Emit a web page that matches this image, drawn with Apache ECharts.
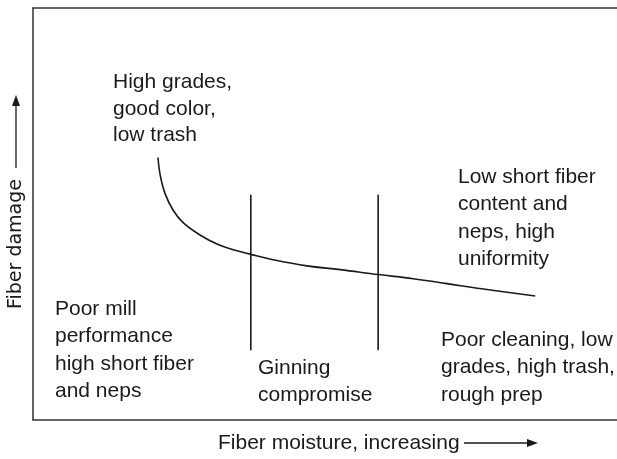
<!DOCTYPE html>
<html>
<head>
<meta charset="utf-8">
<script src="https://cdn.jsdelivr.net/npm/echarts@6/dist/echarts.min.js"></script>
<style>
  html, body { margin: 0; padding: 0; background: #fff; }
  #chart { width: 617px; height: 459px; }
</style>
</head>
<body>
<div id="chart"></div>
<script>
// curve (arbitrary moisture / damage units, 0-10)
var moisture = [2.14, 2.18, 2.26, 2.40, 2.57, 2.86, 3.15, 3.43, 3.73, 4.11, 4.69, 5.26, 5.91, 6.51, 7.09, 7.65, 8.60];
var damage = [6.37, 5.93, 5.50, 5.09, 4.79, 4.49, 4.27, 4.13, 4.02, 3.89, 3.74, 3.65, 3.53, 3.43, 3.31, 3.19, 3.01];

// the two vertical dividers of the ginning compromise zone
var dividerX = [3.73, 5.91];
var dividerSpan = [1.69, 5.47];

var topLeftNote = ["High grades,", "good color,", "low trash"];
var topRightNote = ["Low short fiber", "content and", "neps, high", "uniformity"];
var bottomLeftNote = ["Poor mill", "performance", "high short fiber", "and neps"];
var middleNote = ["Ginning", "compromise"];
var bottomRightNote = ["Poor cleaning, low", "grades, high trash,", "rough prep"];
var xTitle = "Fiber moisture, increasing";
var yTitle = "Fiber damage";

var ink = "#1a1a1a";
var frame = "#333";
var noteFont = "21px 'Liberation Sans', Arial, sans-serif";

function note(lines, x, y, lh) {
  return {
    type: "text",
    x: x,
    y: y,
    style: {
      text: lines.join("\n"),
      font: noteFont,
      fill: ink,
      lineHeight: lh,
      verticalAlign: "top"
    }
  };
}

function bareAxis(pos) {
  return {
    type: "value", min: 0, max: 10, position: pos,
    axisLine: { show: true, onZero: false, lineStyle: { color: frame, width: 1.5 } },
    axisTick: { show: false },
    axisLabel: { show: false }, splitLine: { show: false }
  };
}

var myChart = echarts.init(document.getElementById("chart"));

var series = [
  {
    type: "line",
    data: moisture.map(function (m, i) { return [m, damage[i]]; }),
    smooth: 0.4,
    symbol: "none",
    lineStyle: { color: ink, width: 1.6 }
  }
];
dividerX.forEach(function (d) {
  series.push({
    type: "line",
    data: [[d, dividerSpan[0]], [d, dividerSpan[1]]],
    symbol: "none",
    lineStyle: { color: ink, width: 1.6 }
  });
});

myChart.setOption({
  animation: false,
  grid: { left: 33, right: 0, top: 8, bottom: 39 },
  // frame is open on the right, like the original figure
  xAxis: [bareAxis("bottom"), bareAxis("top")],
  yAxis: bareAxis("left"),
  series: series,
  graphic: [
    note(topLeftNote, 113, 69, 26.5),
    note(topRightNote, 458, 163, 27.5),
    note(bottomLeftNote, 55, 295, 27.5),
    note(middleNote, 258, 354, 27.5),
    note(bottomRightNote, 441, 326, 27.5),
    {
      type: "text",
      x: 218,
      y: 443,
      style: {
        text: xTitle,
        font: noteFont,
        fill: ink,
        verticalAlign: "middle"
      }
    },
    { type: "line", shape: { x1: 464, y1: 443, x2: 530, y2: 443 }, style: { stroke: ink, lineWidth: 1.3 } },
    { type: "polygon", shape: { points: [[538, 443], [527, 439], [527, 447]] }, style: { fill: ink } },
    {
      type: "text",
      x: 16,
      y: 244,
      rotation: Math.PI / 2,
      style: {
        text: yTitle,
        font: "19px 'DejaVu Sans', sans-serif",
        fill: ink,
        align: "center",
        verticalAlign: "middle"
      }
    },
    { type: "line", shape: { x1: 16, y1: 168, x2: 16, y2: 104 }, style: { stroke: ink, lineWidth: 1.3 } },
    { type: "polygon", shape: { points: [[16, 95], [12, 106], [20, 106]] }, style: { fill: ink } }
  ]
});
</script>
</body>
</html>
